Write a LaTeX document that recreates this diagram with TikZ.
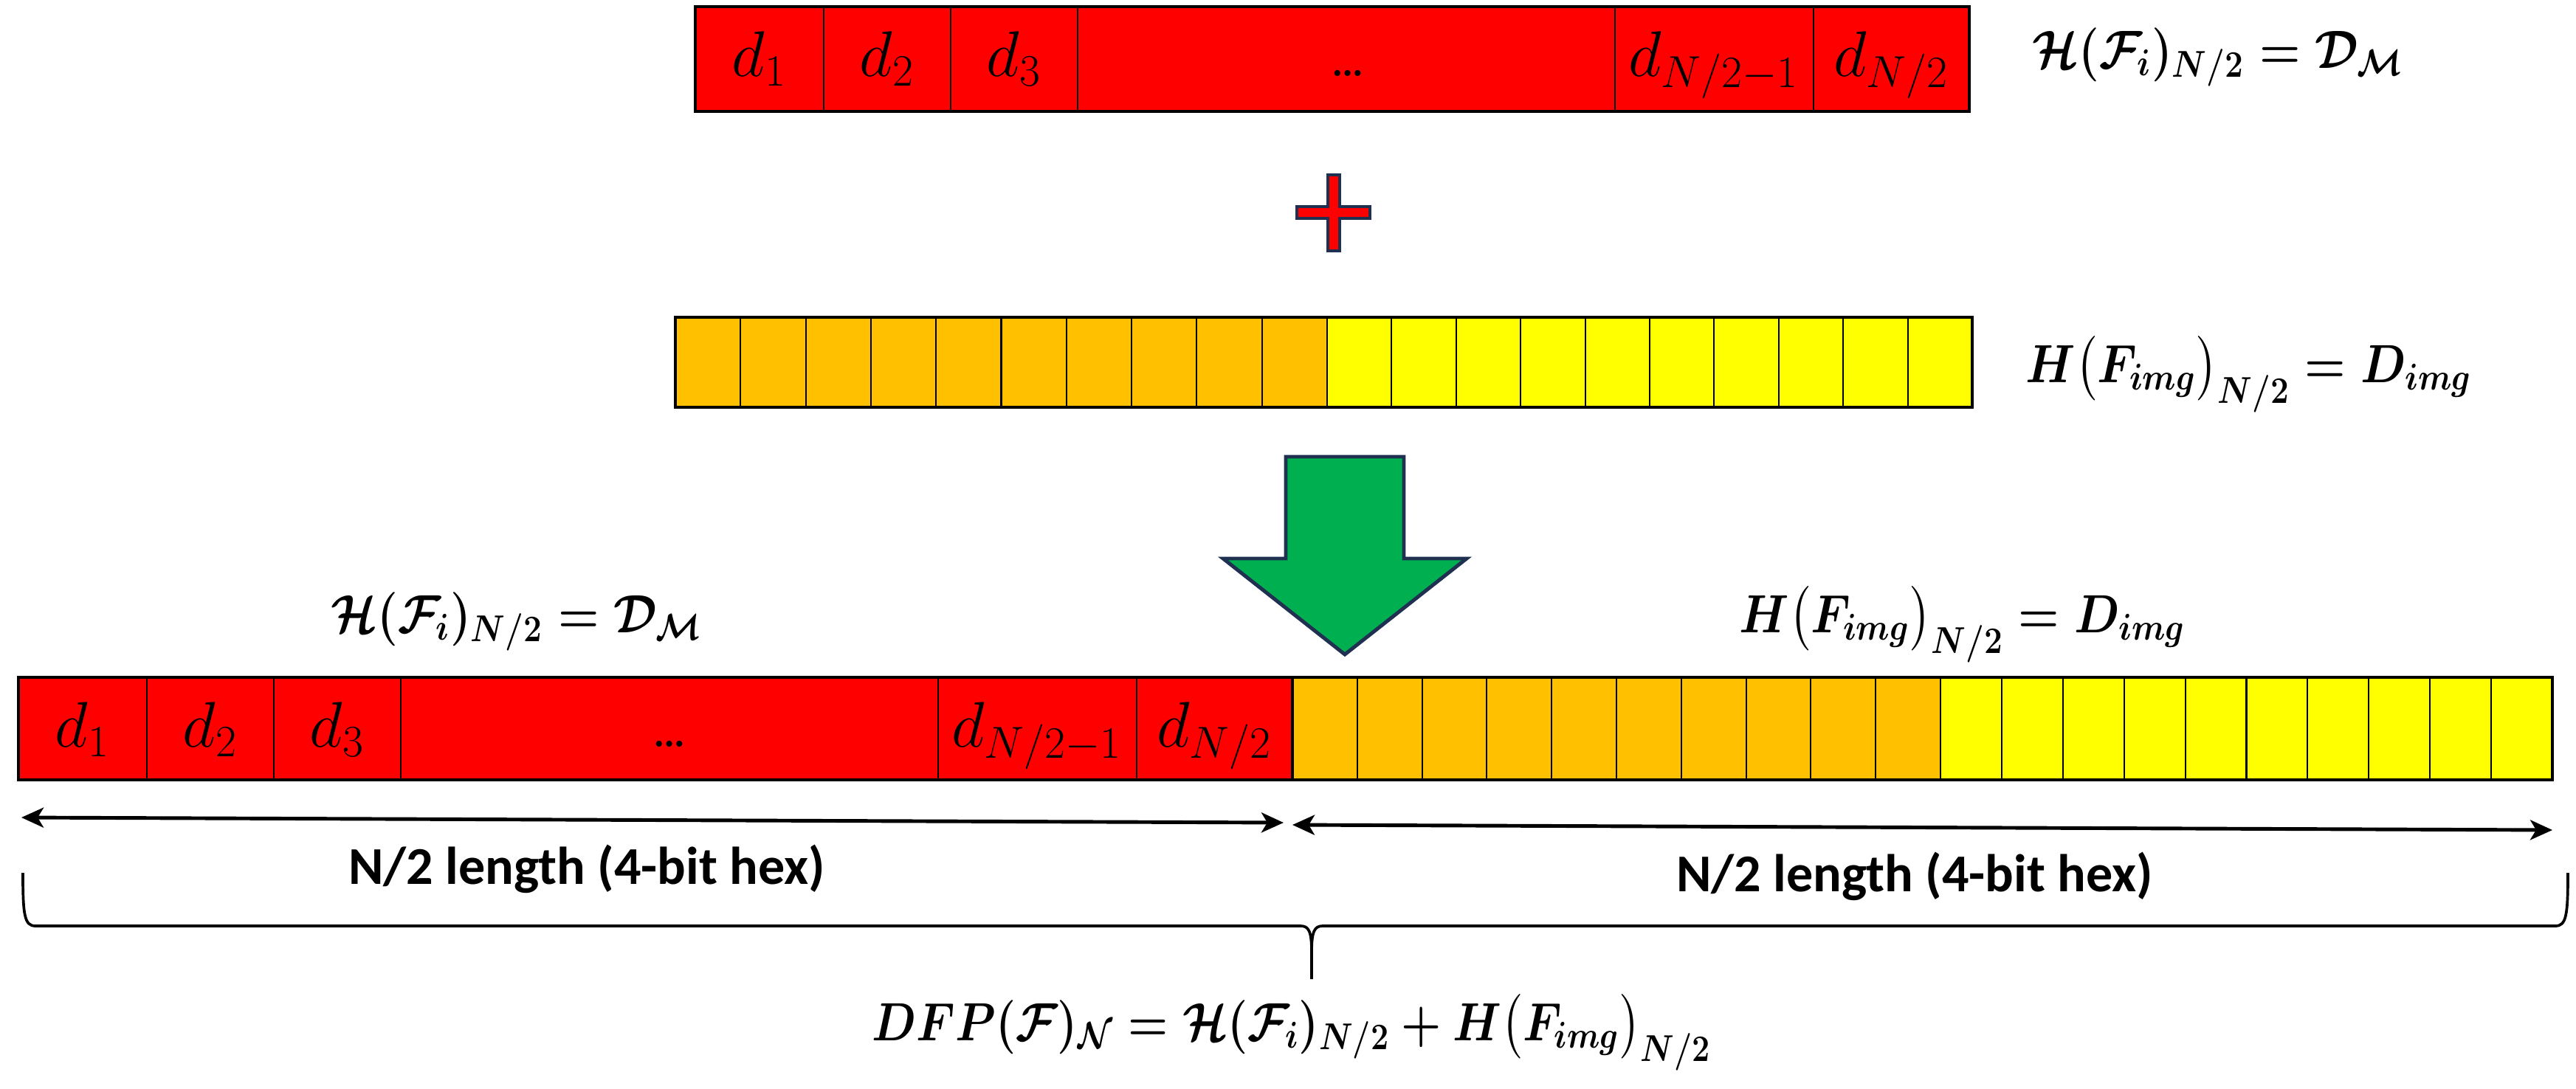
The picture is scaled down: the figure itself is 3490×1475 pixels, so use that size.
\documentclass[tikz,border=0pt]{standalone}
\usepackage{fontspec}
\usepackage{amsmath}
\newfontfamily\carlito{Carlito}
\usetikzlibrary{arrows.meta}
\definecolor{pred}{HTML}{FF0000}
\definecolor{porange}{HTML}{FFC000}
\definecolor{pyellow}{HTML}{FFFF00}
\definecolor{pgreen}{HTML}{00B050}
\definecolor{pnavy}{HTML}{1F3050}
\newcommand\hsq[2][0.87]{\scalebox{#1}[1]{\boldmath$#2$}}
\tikzset{
  cellline/.style={line width=0.6pt},
  barframe/.style={line width=1.1pt},
  dlabel/.style={font=\fontsize{24}{28}\selectfont, anchor=base, inner sep=0pt},
  dotslabel/.style={font=\fontsize{16}{18}\selectfont\bfseries, anchor=base, inner sep=0pt},
  mlabel/.style={font=\fontsize{20}{24}\selectfont\boldmath, inner sep=0pt},
  lenlabel/.style={font=\carlito\bfseries\fontsize{20.5}{24}\selectfont, inner sep=0pt, anchor=base},
  lenarrow/.style={line width=1.4pt, {Stealth[length=0.3cm,width=0.27cm,inset=0.08cm]}-{Stealth[length=0.3cm,width=0.27cm,inset=0.08cm]}},
  bracepath/.style={line width=1.05pt},
  shapeline/.style={draw=pnavy, line width=1.4pt, line join=miter}
}
\begin{document}
\begin{tikzpicture}[x=0.01cm,y=-0.01cm]
\useasboundingbox (0,0) rectangle (3490,1475);

% ---------- top red bar ----------
\fill[pred] (942,9) rectangle (2668,151);
\foreach \xx in {1116,1288,1460,2188,2457} \draw[cellline] (\xx,9) -- (\xx,151);
\draw[barframe] (942,9) rectangle (2668,151);
\node[dlabel] (t1) at (1029,103) {$d_1$};
\node[dlabel] (t2) at (1202,103) {$d_2$};
\node[dlabel] (t3) at (1374,103) {$d_3$};
\node[dotslabel] (tdots) at (1826,103) {\ldots};
\node[dlabel] (t4) at (2322,103) {$d_{N/2-1}$};
\node[dlabel] (t5) at (2562,103) {$d_{N/2}$};
\node[mlabel, anchor=base west] (toplab) at (2753,92) {\hsq{\mathcal{H}(\mathcal{F}_i)_{N/2} = \mathcal{D}_{\mathcal{M}}}};

% ---------- plus sign ----------
\filldraw[fill=pred, shapeline] (1799,237) -- (1815,237) -- (1815,280) -- (1856,280) -- (1856,296) -- (1815,296) -- (1815,340) -- (1799,340) -- (1799,296) -- (1757,296) -- (1757,280) -- (1799,280) -- cycle;

% ---------- middle bar ----------
\fill[porange] (915,430) rectangle (1798,552);
\fill[pyellow] (1798,430) rectangle (2672,552);
\foreach \i in {1,...,9} \draw[cellline] ({915+\i*88.3},430) -- ({915+\i*88.3},552);
\foreach \i in {1,...,9} \draw[cellline] ({1798+\i*87.4},430) -- ({1798+\i*87.4},552);
\draw[barframe] (915,430) rectangle (2672,552);
\draw[cellline] (1798,430) -- (1798,552);
\node[mlabel, anchor=base west] (midlab) at (2744,518) {\hsq{H\bigl(F_{img}\bigr)_{N/2} = D_{img}}};

% ---------- green arrow ----------
\filldraw[fill=pgreen, shapeline] (1742,619) -- (1902,619) -- (1902,757) -- (1987,757) -- (1822,887) -- (1657,757) -- (1742,757) -- cycle;

% ---------- bottom bar ----------
\fill[pred] (25,918) rectangle (1751,1057);
\foreach \xx in {199,371,543,1271,1540} \draw[cellline] (\xx,918) -- (\xx,1057);
\fill[porange] (1751,918) rectangle (2629,1057);
\fill[pyellow] (2629,918) rectangle (3458,1057);
\foreach \i in {1,...,9} \draw[cellline] ({1751+\i*87.8},918) -- ({1751+\i*87.8},1057);
\foreach \i in {1,...,9} \draw[cellline] ({2629+\i*82.9},918) -- ({2629+\i*82.9},1057);
\draw[barframe] (25,918) rectangle (3458,1057);
\draw[barframe] (1751,918) -- (1751,1057);
\draw[cellline] (2629,918) -- (2629,1057);
\node[dlabel] (b1) at (112,1012) {$d_1$};
\node[dlabel] (b2) at (285,1012) {$d_2$};
\node[dlabel] (b3) at (457,1012) {$d_3$};
\node[dotslabel] (bdots) at (907,1012) {\ldots};
\node[dlabel] (b4) at (1405,1012) {$d_{N/2-1}$};
\node[dlabel] (b5) at (1645,1012) {$d_{N/2}$};
\node[mlabel, anchor=base west] (botlabL) at (448,857) {\hsq{\mathcal{H}(\mathcal{F}_i)_{N/2} = \mathcal{D}_{\mathcal{M}}}};
\node[mlabel, anchor=base west] (botlabR) at (2356,857) {\hsq{H\bigl(F_{img}\bigr)_{N/2} = D_{img}}};

% ---------- length arrows ----------
\coordinate (la) at (29,1108);
\coordinate (lb) at (1739,1115);
\coordinate (ra) at (1751,1118);
\coordinate (rb) at (3458,1125);
\draw[lenarrow] (la) -- (lb);
\draw[lenarrow] (ra) -- (rb);
\node[lenlabel] (lenL) at (795,1198) {N/2 length (4-bit hex)};
\node[lenlabel] (lenR) at (2594,1208) {N/2 length (4-bit hex)};

% ---------- brace ----------
\coordinate (brL) at (31,1183);
\coordinate (brR) at (3479,1183);
\coordinate (brT) at (1777,1327);
\draw[bracepath] (brL) .. controls (31,1240) and (33,1255) .. (48,1255) -- (1762,1255) .. controls (1773,1255) and (1777,1262) .. (1777,1290) -- (brT);
\draw[bracepath] (brR) .. controls (3479,1240) and (3477,1255) .. (3462,1255) -- (1792,1255) .. controls (1781,1255) and (1777,1262) .. (1777,1290);

% ---------- bottom formula ----------
\node[mlabel, anchor=base] (dfp) at (1750,1410) {\hsq[0.85]{DFP(\mathcal{F})_{\mathcal{N}} = \mathcal{H}(\mathcal{F}_i)_{N/2} + H\bigl(F_{img}\bigr)_{N/2}}};
\end{tikzpicture}
\end{document}
